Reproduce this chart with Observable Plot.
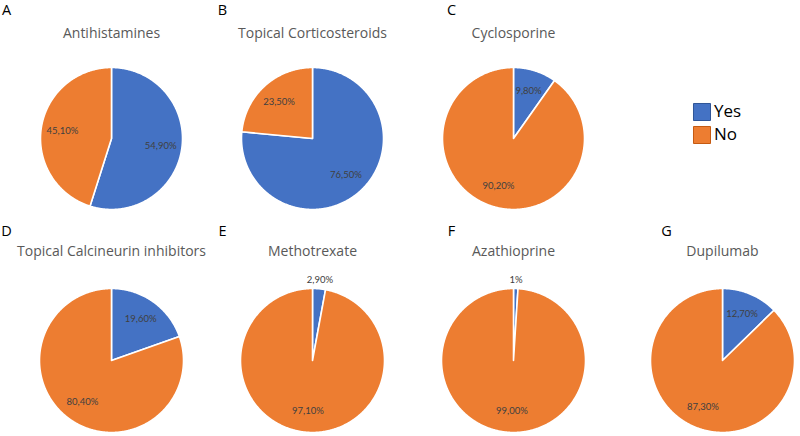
<!DOCTYPE html>
<html>
<head>
<meta charset="utf-8">
<script src="https://cdn.jsdelivr.net/npm/d3@7"></script>
<script src="https://cdn.jsdelivr.net/npm/@observablehq/plot@0.6"></script>
<style>
  html, body { margin: 0; padding: 0; background: #fff; }
</style>
</head>
<body>
<div id="chart"></div>
<script>
// Share of patients who used each treatment (Yes / No), in percent
const panels = ["A", "B", "C", "D", "E", "F", "G"];
const drugs = [
  "Antihistamines",
  "Topical Corticosteroids",
  "Cyclosporine",
  "Topical Calcineurin inhibitors",
  "Methotrexate",
  "Azathioprine",
  "Dupilumab"
];
const answers = ["Yes", "No"];
const yesValues = [54.9, 76.5, 9.8, 19.6, 2.9, 1.0, 12.7];
const noValues = [45.1, 23.5, 90.2, 80.4, 97.1, 99.0, 87.3];
const yesLabels = ["54,90%", "76,50%", "9,80%", "19,60%", "2,90%", "1%", "12,70%"];
const noLabels = ["45,10%", "23,50%", "90,20%", "80,40%", "97,10%", "99,00%", "87,30%"];

// Page layout (pixel units of the plot frame)
const W = 800, H = 436;
const colX = [111, 312, 513, 722];
const rowY = [138, 360];
const rowR = [71, 72];
const letterX = [6, 222, 451, 666];
const letterY = [10, 231];
const titleY = [33, 251];

function cell(i) {
  const row = i < 3 ? 0 : 1;
  const col = i < 3 ? i : i - 3;
  return {row, col, cx: colX[col], cy: rowY[row], r: rowR[row]};
}

const pie = d3.pie().sort(null).value(d => d.value);

const outline = [];   // polygon vertices of every slice
const sliceLabels = []; // one label per slice
panels.forEach((p, i) => {
  const {cx, cy, r} = cell(i);
  const slices = pie([
    {answer: "Yes", value: yesValues[i], label: yesLabels[i]},
    {answer: "No", value: noValues[i], label: noLabels[i]}
  ]);
  slices.forEach(s => {
    const key = p + "-" + s.data.answer;
    const steps = Math.max(2, Math.ceil((s.endAngle - s.startAngle) / (Math.PI / 360)));
    outline.push({key, answer: s.data.answer, x: cx, y: cy});
    for (let k = 0; k <= steps; k++) {
      const a = s.startAngle + (s.endAngle - s.startAngle) * k / steps;
      outline.push({key, answer: s.data.answer, x: cx + r * Math.sin(a), y: cy - r * Math.cos(a)});
    }
    const mid = (s.startAngle + s.endAngle) / 2;
    const lr = s.data.value < 5 ? r + 9 : r * 0.7;
    sliceLabels.push({text: s.data.label, x: cx + lr * Math.sin(mid), y: cy - lr * Math.cos(mid)});
  });
});

const titles = drugs.map((d, i) => ({text: d, x: cell(i).cx, y: titleY[cell(i).row]}));
const letters = panels.map((p, i) => ({text: p, x: letterX[cell(i).col], y: letterY[cell(i).row]}));
const legend = answers.map((a, k) => ({answer: a, x: 701.5, y: 111.5 + k * 23}));

const chart = Plot.plot({
  width: W,
  height: H,
  margin: 0,
  x: {domain: [0, W], axis: null},
  y: {domain: [0, H], reverse: true, axis: null},
  color: {domain: answers, range: ["#4472C4", "#ED7D31"]},
  style: {background: "#fff"},
  marks: [
    Plot.line(outline, {
      x: "x", y: "y", z: "key",
      fill: "answer",
      stroke: "#fff",
      strokeWidth: 1.6,
      strokeLinejoin: "round",
      curve: "linear-closed"
    }),
    Plot.text(sliceLabels, {
      x: "x", y: "y", text: "text",
      fill: "#404040",
      fontSize: 9.5,
      fontFamily: "Lato"
    }),
    Plot.text(titles, {
      x: "x", y: "y", text: "text",
      fill: "#595959",
      fontSize: 14,
      fontFamily: "Open Sans"
    }),
    Plot.text(letters, {
      x: "x", y: "y", text: "text",
      fill: "#000",
      fontSize: 14.5,
      fontFamily: "Open Sans"
    }),
    Plot.dot(legend, {
      x: "x", y: "y",
      symbol: "square",
      r: 9.6,
      fill: "answer",
      stroke: d => d.answer === "Yes" ? "#2F5597" : "#C55A11",
      strokeWidth: 1
    }),
    Plot.text(legend, {
      x: d => d.x + 12, y: "y", text: "answer",
      textAnchor: "start",
      fill: "#000",
      fontSize: 17,
      fontFamily: "Open Sans"
    })
  ]
});

document.getElementById("chart").append(chart);
</script>
</body>
</html>
